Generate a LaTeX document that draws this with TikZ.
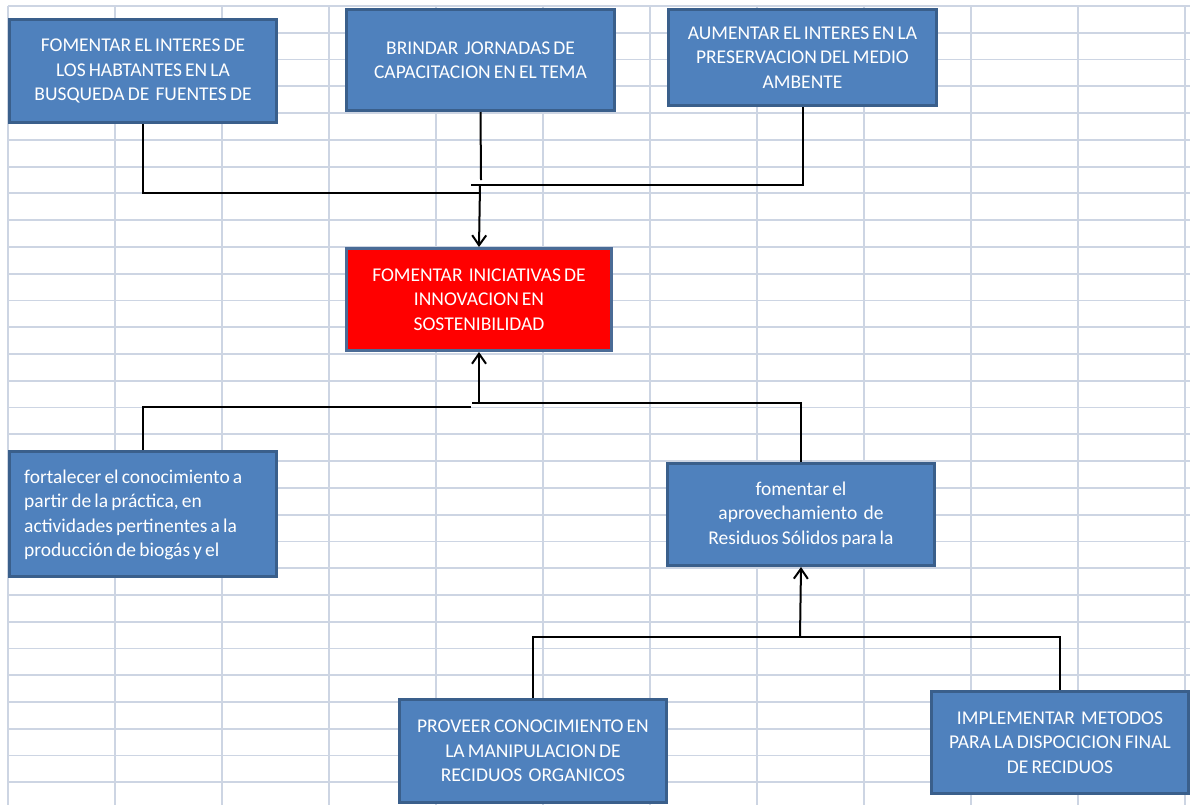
\documentclass[tikz,border=0pt]{standalone}
\usepackage{fontspec}
\setmainfont{Carlito}
\usetikzlibrary{arrows.meta}
\definecolor{gridc}{HTML}{CDD5E3}
\definecolor{boxfill}{HTML}{4F81BD}
\definecolor{boxline}{HTML}{3A5F8B}
\definecolor{redfill}{HTML}{FF0000}
\definecolor{redline}{HTML}{4A6B96}
\newcommand{\boxfont}{\fontsize{19.5}{24.5}\selectfont\spaceskip=0.16em plus 0.05em minus 0.05em\relax}
\tikzset{
  gbox/.style={draw=boxline, fill=boxfill, line width=3pt, rectangle, text=white, align=center, inner sep=0pt,
     font=\boxfont},
  rbox/.style={gbox, draw=redline, fill=redfill},
  conn/.style={line width=2pt, black},
  arr/.style={conn, -{Straight Barb[length=10pt,width=14pt,line width=2pt]}},
}
\begin{document}
\begin{tikzpicture}[x=1pt,y=-1pt]
\useasboundingbox (0,0) rectangle (1190,804);
\clip (0,0) rectangle (1190,804);
% grid
\foreach \k in {0,...,11} {\draw[gridc, line width=1.8pt] ({8+107*\k},6) -- ({8+107*\k},810);}
\foreach \k in {0,...,29} {\draw[gridc, line width=1.8pt] (8,{6+26.77*\k}) -- (1195,{6+26.77*\k});}
% boxes
\node[gbox, minimum width=267pt, minimum height=103pt] (b1) at (143,71) {FOMENTAR EL INTERES DE\\LOS HABTANTES EN LA\\BUSQUEDA DE\ \ FUENTES DE};
\node[gbox, minimum width=268pt, minimum height=101pt] (b2) at (480.5,60) {BRINDAR\ \ JORNADAS DE\\CAPACITACION EN EL TEMA};
\node[gbox, minimum width=268pt, minimum height=96pt] (b3) at (802.5,57.5) {AUMENTAR EL INTERES EN LA\\PRESERVACION DEL MEDIO\\AMBENTE};
\node[rbox, minimum width=265pt, minimum height=102pt] (red) at (479,299.5) {FOMENTAR\ \ INICIATIVAS DE\\INNOVACION EN\\SOSTENIBILIDAD};
\node[gbox, minimum width=267pt, minimum height=125pt] (b4) at (143,514) {};
\node[anchor=west, text=white, align=left, inner sep=0pt, font=\boxfont] (t4) at (24,515) {fortalecer el conocimiento a\\partir de la\ práctica, en\\actividades pertinentes a la\\producción de biogás y el};
\node[gbox, minimum width=267pt, minimum height=102pt] (b5) at (801,514.5) {fomentar el\\aprovechamiento\ \ de\\Residuos Sólidos para la};
\node[gbox, minimum width=267pt, minimum height=103pt] (b6) at (533,751) {PROVEER CONOCIMIENTO EN\\LA MANIPULACION DE\\RECIDUOS\ \ ORGANICOS};
\node[gbox, minimum width=257pt, minimum height=102pt] (b7) at (1060,742.5) {IMPLEMENTAR\ \ METODOS\\PARA LA DISPOCICION FINAL\\DE RECIDUOS};
% junction coordinates
\coordinate (jt) at (480,185);
\coordinate (jtl) at (480,193);
\coordinate (jtr) at (471,185);
\coordinate (j2) at (481,180);
\coordinate (jb) at (479,404);
\coordinate (jbl) at (471,407);
\coordinate (jbr) at (472,403);
\coordinate (jc) at (800,637);
% connectors top
\draw[conn] (b1.south) |- (jtl);
\draw[conn] (b2.south) -- (j2);
\draw[conn] (b3.south) |- (jtr);
\draw[arr] (jt) -- (red.north);
% connectors middle
\draw[conn] (b4.north) |- (jbl);
\draw[conn] (b5.north) |- (jbr);
\draw[arr] (jb) -- (red.south);
% connectors bottom
\draw[conn] (b6.north) -- ++(0,-61) -| (b7.north);
\draw[arr] (jc) -- (b5.south);
\end{tikzpicture}
\end{document}
